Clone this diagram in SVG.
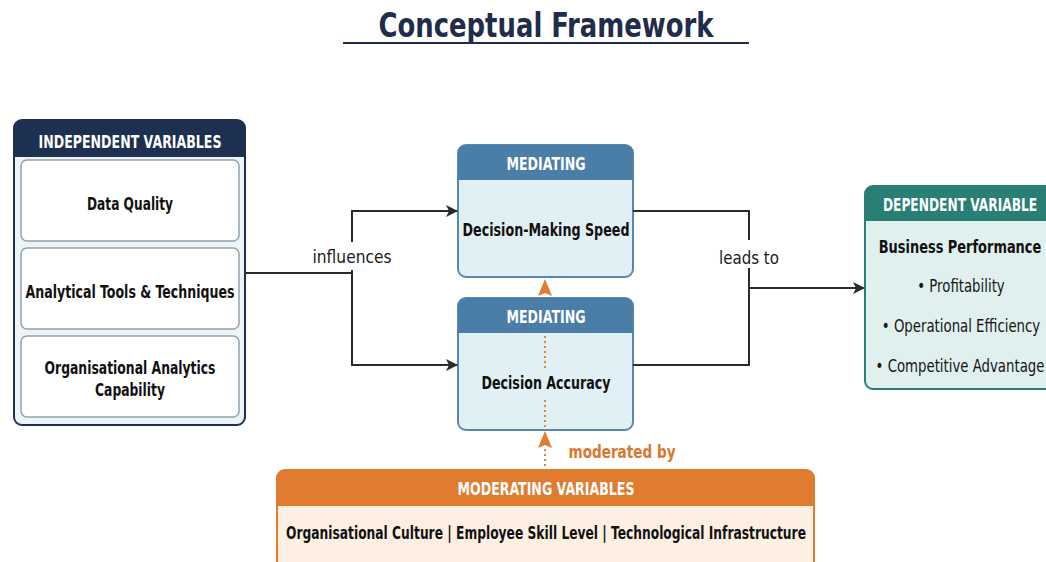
<svg xmlns="http://www.w3.org/2000/svg" width="1046" height="562" viewBox="0 0 1046 562">
  <defs>
    <marker id="arrowDark" viewBox="0 0 12 12" refX="11" refY="6" markerWidth="12" markerHeight="12" markerUnits="userSpaceOnUse" orient="auto">
      <path d="M0,0 L12,6 L0,12 L3,6 Z" fill="#2b2b2b"/>
    </marker>
    <style>
      text { font-family: "Liberation Sans Narrow", "Arial Narrow", "DejaVu Sans Condensed", "Liberation Sans", sans-serif; text-anchor: middle; }
      .title { font-size: 33px; font-weight: bold; fill: #1f2d4a; }
      .hdr { font-size: 17px; font-weight: bold; fill: #ffffff; }
      .lbl { font-size: 18px; font-weight: bold; fill: #111111; }
      .item { font-size: 17px; fill: #151515; }
      .conn { font-size: 18px; fill: #1a1a1a; }
      .mod { font-size: 18px; font-weight: bold; fill: #d9782d; }
      .line { fill: none; stroke: #2b2b2b; stroke-width: 2; }
      .dots { fill: none; stroke: #d9894a; stroke-width: 2; stroke-dasharray: 2 3; }
      .panel { fill: #ffffff; stroke: #8fa3b3; stroke-width: 1.5; }
      .orangehead { fill: #e07b30; }
    </style>
  </defs>

  <rect width="1046" height="562" fill="#ffffff"/>

  <!-- Title -->
  <g id="title">
    <text class="title" x="546" y="37" textLength="335" lengthAdjust="spacingAndGlyphs">Conceptual Framework</text>
    <line x1="343" y1="43" x2="749" y2="43" stroke="#1f2d4a" stroke-width="2"/>
  </g>

  <!-- Independent variables -->
  <g id="independent">
    <rect x="14" y="120" width="231" height="305" rx="8" fill="#eef3f6" stroke="#1e3050" stroke-width="2"/>
    <path d="M14,157 V128 A8,8 0 0 1 22,120 H237 A8,8 0 0 1 245,128 V157 Z" fill="#1e3050"/>
    <text class="hdr" x="130" y="148" textLength="183" lengthAdjust="spacingAndGlyphs">INDEPENDENT VARIABLES</text>
    <rect class="panel" x="21" y="160" width="218" height="81" rx="6"/>
    <text class="lbl" x="130" y="210" textLength="86" lengthAdjust="spacingAndGlyphs">Data Quality</text>
    <rect class="panel" x="21" y="248" width="218" height="81" rx="6"/>
    <text class="lbl" x="130" y="298" textLength="209" lengthAdjust="spacingAndGlyphs">Analytical Tools &amp; Techniques</text>
    <rect class="panel" x="21" y="336" width="218" height="81" rx="6"/>
    <text class="lbl" x="130" y="374" textLength="171" lengthAdjust="spacingAndGlyphs">Organisational Analytics</text>
    <text class="lbl" x="130" y="396" textLength="70" lengthAdjust="spacingAndGlyphs">Capability</text>
  </g>

  <!-- Mediating: decision-making speed -->
  <g id="mediating-speed">
    <rect x="458" y="145" width="175" height="132" rx="8" fill="#e0f0f4" stroke="#5a88ac" stroke-width="2"/>
    <path d="M458,180 V153 A8,8 0 0 1 466,145 H625 A8,8 0 0 1 633,153 V180 Z" fill="#4a7ea6"/>
    <text class="hdr" x="546" y="170" textLength="79" lengthAdjust="spacingAndGlyphs">MEDIATING</text>
    <text class="lbl" x="546" y="236" textLength="167" lengthAdjust="spacingAndGlyphs">Decision-Making Speed</text>
  </g>

  <!-- Mediating: decision accuracy -->
  <g id="mediating-accuracy">
    <rect x="458" y="298" width="175" height="132" rx="8" fill="#e0f0f4" stroke="#5a88ac" stroke-width="2"/>
    <path d="M458,333 V306 A8,8 0 0 1 466,298 H625 A8,8 0 0 1 633,306 V333 Z" fill="#4a7ea6"/>
    <text class="hdr" x="546" y="323" textLength="79" lengthAdjust="spacingAndGlyphs">MEDIATING</text>
    <text class="lbl" x="546" y="389" textLength="129" lengthAdjust="spacingAndGlyphs">Decision Accuracy</text>
  </g>

  <!-- Dependent variable (box runs past the right edge); texts squeezed horizontally -->
  <g id="dependent">
    <rect x="865" y="186" width="190" height="203" rx="8" fill="#dff0ee" stroke="#2a7f74" stroke-width="2"/>
    <path d="M865,221 V194 A8,8 0 0 1 873,186 H1055 V221 Z" fill="#2a7f74"/>
    <text class="hdr" transform="translate(960,211) scale(0.8,1)">DEPENDENT VARIABLE</text>
    <text class="lbl" transform="translate(960,253) scale(0.8,1)">Business Performance</text>
    <text class="item" transform="translate(961,292) scale(0.87,1)">• Profitability</text>
    <text class="item" transform="translate(961,332) scale(0.87,1)">• Operational Efficiency</text>
    <text class="item" transform="translate(960,372) scale(0.87,1)">• Competitive Advantage</text>
  </g>

  <!-- Moderating variables (box runs past the bottom edge) -->
  <g id="moderating">
    <rect x="277" y="470" width="537" height="100" rx="8" fill="#fdf0e3" stroke="#e07b30" stroke-width="2"/>
    <path d="M277,506 V478 A8,8 0 0 1 285,470 H806 A8,8 0 0 1 814,478 V506 Z" fill="#e07b30"/>
    <text class="hdr" x="546" y="495" textLength="177" lengthAdjust="spacingAndGlyphs">MODERATING VARIABLES</text>
    <text class="lbl" x="546" y="539" textLength="520" lengthAdjust="spacingAndGlyphs">Organisational Culture | Employee Skill Level | Technological Infrastructure</text>
  </g>

  <!-- Connectors -->
  <g id="connectors">
    <path class="line" d="M245,273 H352"/>
    <path class="line" d="M352,242 V211 H457" marker-end="url(#arrowDark)"/>
    <path class="line" d="M352,270 V365 H457" marker-end="url(#arrowDark)"/>
    <text class="conn" x="352" y="263" textLength="79" lengthAdjust="spacingAndGlyphs">influences</text>

    <path class="line" d="M633,211 H749 V240"/>
    <path class="line" d="M633,365 H749 V268"/>
    <path class="line" d="M749,288 H864" marker-end="url(#arrowDark)"/>
    <text class="conn" x="749" y="264" textLength="60" lengthAdjust="spacingAndGlyphs">leads to</text>

    <!-- moderation path: dotted line with upward arrowheads -->
    <path class="orangehead" d="M545,279 L552,296 L545,293 L538,296 Z"/>
    <path class="dots" d="M545,336 V368"/>
    <path class="dots" d="M545,400 V428"/>
    <path class="orangehead" d="M545,431 L552,448 L545,445 L538,448 Z"/>
    <path class="dots" d="M545,449 V469"/>
    <text class="mod" x="622" y="458" textLength="107" lengthAdjust="spacingAndGlyphs">moderated by</text>
  </g>
</svg>
